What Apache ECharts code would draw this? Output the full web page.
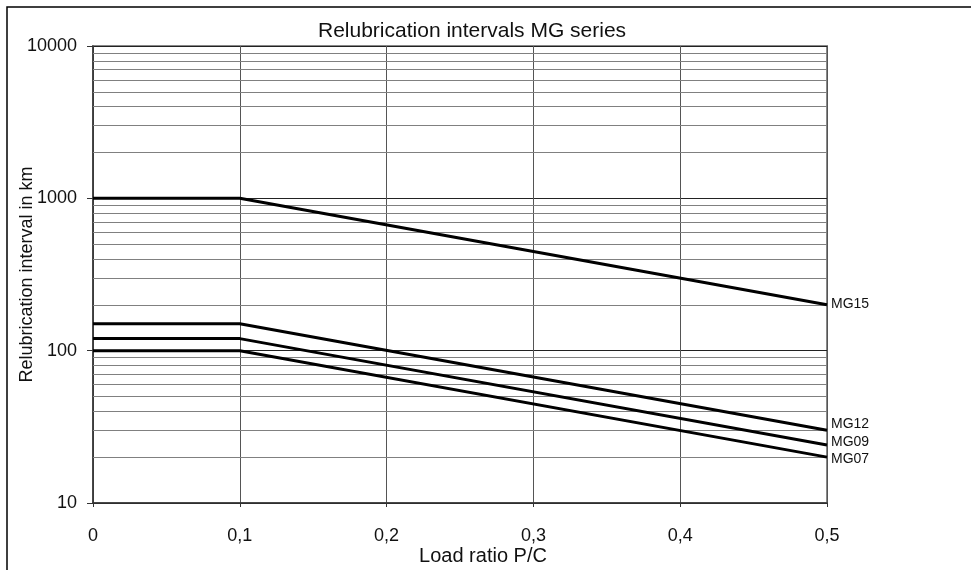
<!DOCTYPE html>
<html>
<head>
<meta charset="utf-8">
<script src="https://cdn.jsdelivr.net/npm/echarts@6/dist/echarts.min.js"></script>
<style>
  html, body { margin: 0; padding: 0; background: #fff; }
  #main { width: 971px; height: 570px; }
</style>
</head>
<body>
<div id="main"></div>
<script>
// load ratio P/C (x) and relubrication interval in km (y)
var loadRatio = [0, 0.1, 0.5];
var mg15 = [1000, 1000, 200];
var mg12 = [150, 150, 30];
var mg09 = [120, 120, 24];
var mg07 = [100, 100, 20];
// minor log grid lines
var minorLines = [20, 30, 40, 50, 60, 70, 80, 90,
                  200, 300, 400, 500, 600, 700, 800, 900,
                  2000, 3000, 4000, 5000, 6000, 7000, 8000, 9000];

var FONT = '"Liberation Sans", Arial, sans-serif';

function pairs(ys) {
    return loadRatio.map(function (x, i) { return [x, ys[i]]; });
}

function lineSerie(name, ys, dy) {
    return {
        name: name,
        type: 'line',
        data: pairs(ys),
        symbol: 'none',
        silent: true,
        animation: false,
        lineStyle: {color: '#000', width: 3},
        endLabel: {
            show: true,
            formatter: name,
            color: '#111',
            fontFamily: FONT,
            fontSize: 14,
            distance: 4,
            offset: [0, dy]
        },
        z: 5
    };
}

var chart = echarts.init(document.getElementById('main'));

var series = [
    lineSerie('MG15', mg15, -1),
    lineSerie('MG12', mg12, -6),
    lineSerie('MG09', mg09, -3),
    lineSerie('MG07', mg07, 2)
];

// minor grid lines through the log scale
series.push({
    type: 'line',
    data: [],
    silent: true,
    markLine: {
        silent: true,
        symbol: 'none',
        animation: false,
        label: {show: false},
        lineStyle: {color: '#808080', width: 1, type: 'solid'},
        data: minorLines.map(function (v) { return {yAxis: v}; })
    },
    z: 1
});

chart.setOption({
    animation: false,
    title: {
        text: 'Relubrication intervals MG series',
        left: 313,
        top: 16,
        textStyle: {fontFamily: FONT, fontSize: 21, fontWeight: 'normal', color: '#111'}
    },
    graphic: [{
        type: 'rect',
        shape: {x: 7, y: 7, width: 1200, height: 800},
        style: {fill: null, stroke: '#000', lineWidth: 1.5},
        silent: true
    }],
    grid: {
        left: 93, right: 144, top: 46, bottom: 67,
        outerBoundsMode: 'none',
        show: true, borderColor: '#888', borderWidth: 2, backgroundColor: 'transparent'
    },
    xAxis: {
        type: 'value',
        min: 0, max: 0.5, interval: 0.1,
        name: 'Load ratio P/C',
        nameLocation: 'middle',
        nameGap: 43,
        nameMoveOverlap: false,
        nameTextStyle: {fontFamily: FONT, fontSize: 20, color: '#111', padding: [0, 0, 0, 46]},
        axisLine: {show: true, onZero: false, lineStyle: {color: '#333', width: 1.5}},
        axisTick: {show: true, length: 4, lineStyle: {color: '#333'}},
        axisLabel: {
            margin: 24,
            fontFamily: FONT, fontSize: 18, color: '#111',
            formatter: function (v) { return String(+v.toFixed(1)).replace('.', ','); }
        },
        splitLine: {show: true, lineStyle: {color: '#555', width: 1}}
    },
    yAxis: {
        type: 'log',
        logBase: 10,
        min: 10, max: 10000,
        name: 'Relubrication interval in km',
        nameLocation: 'middle',
        nameGap: 57,
        nameMoveOverlap: false,
        nameTextStyle: {fontFamily: FONT, fontSize: 18, color: '#111'},
        axisLine: {show: true, lineStyle: {color: '#333', width: 1.5}},
        axisTick: {show: true, length: 6, lineStyle: {color: '#333'}},
        axisLabel: {
            margin: 16, fontFamily: FONT, fontSize: 18, color: '#111',
            formatter: function (v) { return String(v); }
        },
        splitLine: {show: true, lineStyle: {color: '#222', width: 1}},
        minorTick: {show: false},
        minorSplitLine: {show: false}
    },
    series: series
});
</script>
</body>
</html>
